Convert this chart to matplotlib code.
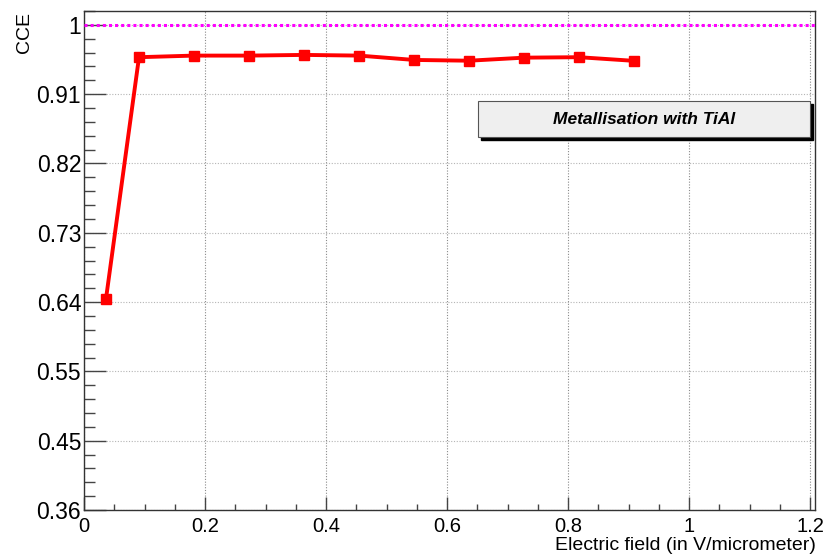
import matplotlib
matplotlib.use("Agg")
import matplotlib.pyplot as plt
import matplotlib.patches as mpatches
import numpy as np

plt.rcParams['font.family'] = ['Liberation Sans', 'DejaVu Sans']

# Data
field = [0.0364, 0.0909, 0.1818, 0.2727, 0.3636, 0.4545, 0.5455, 0.6364, 0.7273, 0.8182, 0.9091]
cce = [0.641, 0.9576, 0.9597, 0.9597, 0.9606, 0.9597, 0.9540, 0.9530, 0.9570, 0.9576, 0.9528]
reference_level = 1.0
ytick_labels = ["0.36", "0.45", "0.55", "0.64", "0.73", "0.82", "0.91", "1"]
xtick_values = [0, 0.2, 0.4, 0.6, 0.8, 1.0, 1.2]
xtick_labels = ["0", "0.2", "0.4", "0.6", "0.8", "1", "1.2"]
title_text = "Metallisation with TiAl"

W, H = 824, 556
fig = plt.figure(figsize=(W / 100, H / 100), dpi=100)
ax = fig.add_axes([84 / W, (H - 510) / H, (815 - 84) / W, (510 - 11) / H])

ymin, ymax = 4 / 11, 1.0182
ax.set_xlim(0, 1.208)
ax.set_ylim(ymin, ymax)

# grid
ax.xaxis.grid(True, which='major', color='#8a8a8a', linestyle=(0, (1, 1.5)), linewidth=0.8)
ax.yaxis.grid(True, which='major', color='#b5b5b5', linestyle=(0, (1, 1.5)), linewidth=0.8)
ax.set_axisbelow(True)

# reference line
ax.axhline(reference_level, color='#ff00ff', linestyle=(0, (1, 1)), linewidth=2.2, zorder=3)

# data
ax.plot(field, cce, color='#ff0000', linewidth=2.8, marker='s', markersize=6.5,
        markerfacecolor='#ff0000', markeredgecolor='#ff0000', zorder=4)

# ticks
yt = np.linspace(ymin, 1.0, len(ytick_labels))
ax.set_yticks(yt)
ax.set_yticklabels(ytick_labels)
ax.set_yticks(np.arange(ymin, ymax, (1 / 11) / 5), minor=True)
ax.set_xticks(xtick_values)
ax.set_xticklabels(xtick_labels)
ax.set_xticks(np.arange(0, 1.21, 0.05), minor=True)

ax.tick_params(axis='y', which='major', direction='in', length=15.5, width=1.0,
               color='#444444', labelsize=16.5, pad=2)
ax.tick_params(axis='y', which='minor', direction='in', length=7.8, width=1.0,
               color='#444444')
ax.tick_params(axis='x', which='major', direction='in', length=9.4, width=1.0,
               color='#444444', labelsize=14.5, pad=5)
ax.tick_params(axis='x', which='minor', direction='in', length=4.5, width=1.0,
               color='#444444')
ax.tick_params(top=False, right=False, which='both')

for s in ax.spines.values():
    s.set_color('#333333')
    s.set_linewidth(1.0)

# axis titles (ROOT style, at end of axes)
fig.text(816 / W, 1 - 545 / H, "Electric field (in V/micrometer)", ha='right', va='center',
         fontsize=14)
fig.text(24 / W, 1 - 12 / H, "CCE", rotation=90, ha='center', va='top', fontsize=14)

# text box with shadow
bx0, bx1, by0, by1 = 478, 810, 101, 137
shadow = mpatches.Rectangle(((bx0 + 3) / W, 1 - (by1 + 3) / H), (bx1 - bx0) / W, (by1 - by0) / H,
                            transform=fig.transFigure, facecolor='black', edgecolor='black',
                            zorder=5)
box = mpatches.Rectangle((bx0 / W, 1 - by1 / H), (bx1 - bx0) / W, (by1 - by0) / H,
                         transform=fig.transFigure, facecolor='#efefef', edgecolor='#555555',
                         linewidth=0.8, zorder=6)
fig.patches.extend([shadow, box])
fig.text((bx0 + bx1) / 2 / W, 1 - (by0 + by1) / 2 / H, title_text, ha='center', va='center',
         fontsize=12.5, fontweight='bold', fontstyle='italic', zorder=7)

fig.savefig("out.png", dpi=100)
